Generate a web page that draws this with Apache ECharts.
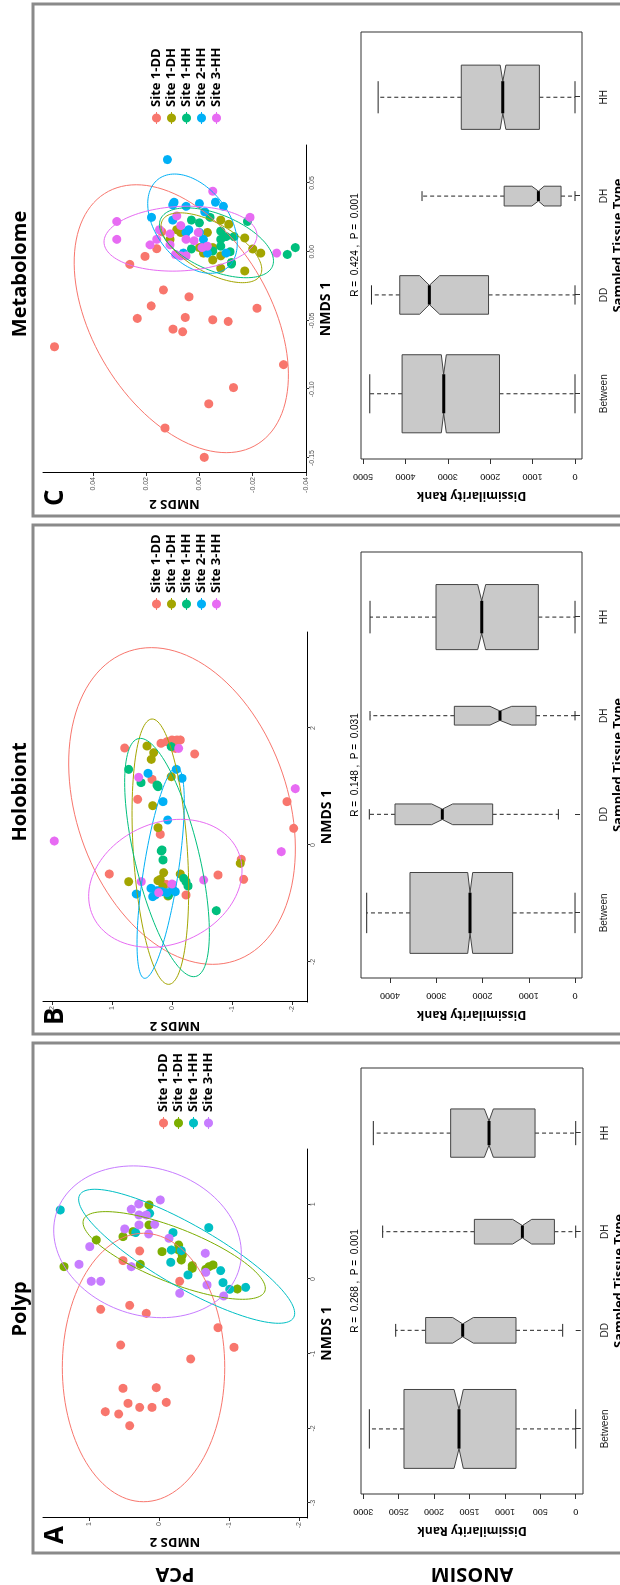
<!DOCTYPE html>
<html>
<head>
<meta charset="utf-8">
<script src="https://cdn.jsdelivr.net/npm/echarts@6/dist/echarts.min.js"></script>
<style>
html, body { margin: 0; padding: 0; background: #fff; width: 620px; height: 1585px; overflow: hidden; }
/* the figure is drawn landscape, then turned a quarter turn left like the source page */
#chart { position: absolute; left: 0; top: 0; width: 1585px; height: 620px;
         transform-origin: 0 0; transform: translate(0, 1585px) rotate(-90deg); }
</style>
</head>
<body>
<div id="chart"></div>
<script>
// ---- data: NMDS points are [NMDS1, NMDS2] ----
var groupsA = ['Site 1-DD', 'Site 1-DH', 'Site 1-HH', 'Site 3-HH'];
var groups5 = ['Site 1-DD', 'Site 1-DH', 'Site 1-HH', 'Site 2-HH', 'Site 3-HH'];
var colorsA = ['#F8766D', '#7CAE00', '#00BFC4', '#C77CFF'];
var colors5 = ['#F8766D', '#A3A500', '#00BF7D', '#00B0F6', '#E76BF3'];

// A - Polyp
var polypDD = [[0.375,0.276],[0.246,0.514],[-0.031,-0.295],[-0.406,0.833],[-0.353,0.419],[-0.460,0.181],[-0.652,-0.843],[-0.915,-1.071],[-1.071,-0.452],[-0.884,0.548],[-1.464,0.514],[-1.455,0.038],[-1.777,0.767],[-1.808,0.576],[-1.665,0.443],[-1.719,0.276],[-1.719,0.100],[-1.652,-0.105],[-1.964,0.419]];
var polypDH = [[0.165,1.357],[0.522,0.895],[0.567,0.514],[0.196,0.267],[0.991,0.143],[0.723,0.143],[0.634,0.371],[0.366,-0.043],[0.455,-0.281],[0.388,-0.281],[0.254,-0.319],[0.321,-0.333],[0.179,-0.476],[0.143,-0.476],[0.129,-0.667],[0.188,-0.771],[0.165,-0.714],[-0.134,-1.119]];
var polypHH1 = [[0.924,1.410],[0.621,0.333],[0.879,0.133],[0.621,-0.200],[0.388,-0.176],[0.379,-0.319],[0.223,-0.167],[0.054,-0.414],[0.688,-0.710],[0.112,-0.881],[-0.049,-0.914],[-0.138,-1.010],[-0.112,-1.238]];
var polypHH3 = [[0.933,0.395],[1.004,0.290],[1.058,-0.019],[0.857,0.286],[0.857,0.181],[0.723,0.286],[0.732,0.062],[0.670,0.490],[0.603,0.148],[0.545,-0.143],[0.196,1.143],[0.433,0.990],[-0.031,0.967],[-0.031,0.833],[0.165,0.395],[-0.192,-0.295],[0.344,-0.662],[0.089,-0.667],[-0.080,-0.686],[-0.228,-0.924]];
// ellipses: [centre NMDS1, centre NMDS2, half range NMDS1, half range NMDS2, correlation]
var ellPolyp = [[-1.185,0.221,1.797,1.160,0.0],[0.315,-0.217,0.587,1.302,0.75],[0.304,-0.395,0.897,1.543,0.85],[0.498,0.164,1.016,1.340,0.15]];
var ticksPolypX = [-3, -2, -1, 0, 1];
var ticksPolypY = [-2, -1, 0, 1];

// B - Holobiont
var holoDD = [[1.658,0.789],[0.781,0.572],[1.123,0.333],[1.738,0.183],[1.766,0.083],[1.795,0.000],[1.783,-0.044],[1.795,-0.083],[1.795,-0.139],[1.652,-0.056],[1.556,-0.378],[0.182,0.194],[-0.496,1.044],[-0.513,-0.767],[-0.245,-1.156],[-0.587,-1.194],[0.741,-1.917],[0.285,-2.028],[-0.672,0.100],[-0.855,-0.233]];
var holoDH = [[1.692,0.417],[1.578,0.306],[1.464,0.344],[1.168,0.011],[0.672,0.322],[0.296,0.233],[-0.473,0.139],[-0.587,0.194],[-0.610,0.233],[-0.627,0.722],[-0.496,-0.139],[-0.313,-1.139],[-0.872,0.067],[-0.712,0.156]];
var holoHH1 = [[1.293,0.722],[1.066,0.517],[1.026,0.250],[0.997,0.233],[-0.085,0.167],[-0.103,0.178],[-0.256,0.150],[-0.570,-0.194],[-0.627,-0.233],[-0.701,-0.267],[-1.123,-0.739],[-0.855,0.056],[1.681,0.011]];
var holoHH2 = [[1.225,0.400],[1.293,-0.072],[1.140,-0.167],[0.741,0.150],[0.427,0.072],[-0.838,0.594],[-0.741,0.350],[-0.883,0.322],[-0.781,0.250],[-0.798,0.167],[-0.815,0.083],[-0.758,-0.011],[-0.798,-0.056],[-0.855,0.278]];
var holoHH3 = [[0.068,1.961],[1.157,0.556],[1.652,-0.111],[-0.627,0.511],[-0.667,0.000],[-0.598,-0.528],[-0.114,-1.822],[0.963,-2.056],[-0.815,0.222]];
var ellHolo = [[0.667,-0.167,2.707,1.889,0.27],[-0.114,0.194,2.268,0.472,0.29],[-0.214,0.083,2.037,0.706,0.63],[-0.476,0.189,1.803,0.394,-0.67],[-0.655,0.111,1.094,1.278,-0.2]];
var ticksHoloX = [-2, 0, 2];
var ticksHoloY = [-2, -1, 0, 1, 2];

// C - Metabolome
var metaDD = [[-0.0691,0.0544],[-0.1282,0.0129],[-0.1495,-0.0018],[-0.1106,-0.0035],[-0.0988,-0.0128],[-0.0821,-0.0316],[-0.0411,-0.0216],[-0.0507,-0.0108],[-0.0495,-0.005],[-0.0478,0.0053],[-0.0582,0.0063],[-0.0563,0.0099],[-0.0394,0.0181],[-0.0485,0.0233],[-0.0328,0.0039],[-0.0278,0.0135],[-0.0092,0.0261],[-0.0034,0.0204],[0.0022,0.016],[0.0145,0.0141]];
var metaDH = [[0.016,0.0085],[0.014,0.007],[0.009,0.011],[0.023,-0.008],[0.020,-0.011],[0.014,-0.003],[0.010,-0.017],[0.002,-0.020],[-0.001,-0.023],[-0.014,-0.017],[-0.012,-0.008],[-0.006,-0.005],[-0.003,-0.008],[-0.008,-0.012],[0.003,0.000],[-0.001,-0.0015],[0.003,-0.005]];
var metaHH1 = [[0.023,0.003],[0.021,0.000],[0.025,-0.004],[0.015,-0.008],[0.011,-0.010],[0.011,-0.013],[0.009,-0.008],[0.004,-0.008],[0.002,0.003],[0.000,-0.0115],[-0.008,-0.012],[-0.009,-0.012],[0.022,-0.018],[-0.002,-0.033],[0.003,-0.036],[0.003,-0.001],[0.0005,-0.005]];
var metaHH2 = [[0.067,0.012],[0.025,0.018],[0.034,0.010],[0.036,0.0095],[0.033,0.005],[0.035,0.000],[0.036,-0.006],[0.033,-0.009],[0.029,-0.002],[0.023,0.010],[0.014,0.005],[0.014,0.000],[0.009,-0.0015],[-0.001,0.006],[-0.001,-0.003],[-0.001,-0.010],[0.016,0.004]];
var metaHH3 = [[0.022,0.031],[0.009,0.031],[0.005,0.0185],[0.009,0.016],[0.016,0.015],[0.013,0.011],[0.005,0.011],[0.026,0.0085],[0.019,0.007],[0.009,0.005],[0.008,0.002],[0.014,0.0004],[-0.003,0.007],[-0.003,0.005],[0.003,-0.001],[0.044,-0.005],[0.025,-0.019],[-0.001,-0.029],[0.004,-0.003],[-0.002,0.009]];
var ellMeta = [[-0.0487,0.0068,0.0974,0.0402,0.42],[0.0029,-0.0045,0.0254,0.0189,0.62],[0.0065,-0.0064,0.0254,0.0214,0.52],[0.0204,0.0026,0.0361,0.0168,0.4],[0.0095,0.0071,0.0236,0.0287,-0.1]];
var ticksMetaX = [-0.15, -0.10, -0.05, 0, 0.05];
var ticksMetaY = [-0.04, -0.02, 0, 0.02, 0.04];

// ANOSIM dissimilarity ranks (notched boxplots)
var boxCats = ['Between', 'DD', 'DH', 'HH'];
var boxMinA = [0, 184, 0, 0];
var boxQ1A = [843, 843, 301, 574];
var notchLoA = [1587, 1445, 621, 1163];
var medianA = [1648, 1596, 753, 1224];
var notchHiA = [1718, 1737, 890, 1290];
var boxQ3A = [2425, 2119, 1431, 1766];
var boxMaxA = [2914, 2542, 2726, 2858];
var boxWidthA = [0.80, 0.26, 0.25, 0.49];

var boxMinB = [0, 360, 0, 0];
var boxQ1B = [1348, 1780, 843, 793];
var notchLoB = [2212, 2645, 1369, 1931];
var medianB = [2270, 2869, 1622, 2018];
var notchHiB = [2320, 3099, 1838, 2104];
var boxQ3B = [3568, 3892, 2609, 3005];
var boxMaxB = [4504, 4447, 4432, 4432];
var boxWidthB = [0.82, 0.21, 0.19, 0.66];

var boxMinC = [0, 0, 0, 0];
var boxQ1C = [1781, 2039, 329, 840];
var notchLoC = [3035, 3192, 729, 1631];
var medianC = [3098, 3435, 863, 1702];
var notchHiC = [3153, 3663, 1019, 1765];
var boxQ3C = [4078, 4133, 1671, 2682];
var boxMaxC = [4840, 4800, 3608, 4643];
var boxWidthC = [0.79, 0.39, 0.20, 0.65];

var rankTicksA = [0, 500, 1000, 1500, 2000, 2500, 3000];
var rankTicksB = [0, 1000, 2000, 3000, 4000];
var rankTicksC = [0, 1000, 2000, 3000, 4000, 5000];
var catTicks = [1, 2, 3, 4];

var statsA = 'R =  0.268 ,  P =  0.001';
var statsB = 'R =  0.148 ,  P =  0.031';
var statsC = 'R =  0.424 ,  P =  0.001';

// ---- layout ----
var scatterPanels = [
    { grid: {left: 67, top: 43, width: 369, height: 264}, xMin: -3.2, xMax: 1.74, yMin: -2.114, yMax: 1.657,
      xTicks: ticksPolypX, yTicks: ticksPolypY, dec: 0, groups: groupsA, colors: colorsA,
      pts: [polypDD, polypDH, polypHH1, polypHH3], ells: ellPolyp, legend: {left: 451, top: 152} },
    { grid: {left: 583, top: 43, width: 370, height: 264}, xMin: -2.684, xMax: 3.641, yMin: -2.25, yMax: 2.15,
      xTicks: ticksHoloX, yTicks: ticksHoloY, dec: 0, groups: groups5, colors: colors5,
      pts: [holoDD, holoDH, holoHH1, holoHH2, holoHH3], ells: ellHolo, legend: {left: 970, top: 145} },
    { grid: {left: 1112, top: 43, width: 328, height: 263}, xMin: -0.1609, xMax: 0.0776, yMin: -0.04, yMax: 0.0587,
      xTicks: ticksMetaX, yTicks: ticksMetaY, dec: 2, groups: groups5, colors: colors5,
      pts: [metaDD, metaDH, metaHH1, metaHH2, metaHH3], ells: ellMeta, legend: {left: 1456, top: 145} }
];
var boxPanels = [
    { grid: {left: 91, top: 361, width: 426, height: 222}, yMin: -103, yMax: 3032, ticks: rankTicksA,
      min: boxMinA, q1: boxQ1A, lo: notchLoA, med: medianA, hi: notchHiA, q3: boxQ3A, max: boxMaxA, w: boxWidthA },
    { grid: {left: 607, top: 361, width: 426, height: 221}, yMin: -151, yMax: 4627, ticks: rankTicksB,
      min: boxMinB, q1: boxQ1B, lo: notchLoB, med: medianB, hi: notchHiB, q3: boxQ3B, max: boxMaxB, w: boxWidthB },
    { grid: {left: 1126, top: 361, width: 427, height: 221}, yMin: -165, yMax: 5047, ticks: rankTicksC,
      min: boxMinC, q1: boxQ1C, lo: notchLoC, med: medianC, hi: notchHiC, q3: boxQ3C, max: boxMaxC, w: boxWidthC }
];

var keyIcon = 'path://M0,4L12,4L12,5L0,5Z M6,0A4.5,4.5,0,1,1,5.99,0Z';
var tickFont = 'Liberation Sans';
var headFont = 'Open Sans';

function ellipseItem(color) {
    return function (params, api) {
        var c1 = api.value(0), c2 = api.value(1), r1 = api.value(2), r2 = api.value(3), rho = api.value(4);
        var s = Math.sqrt(1 - rho * rho);
        var pts = [];
        for (var i = 0; i <= 120; i++) {
            var t = i / 120 * Math.PI * 2;
            pts.push(api.coord([c1 + r1 * Math.cos(t), c2 + r2 * (rho * Math.cos(t) + s * Math.sin(t))]));
        }
        return { type: 'polyline', shape: {points: pts}, style: {stroke: color, fill: null, lineWidth: 1} };
    };
}

function boxItem(params, api) {
    var c = api.value(0), hw = api.value(8) / 2;
    var vMin = api.value(1), q1 = api.value(2), lo = api.value(3), med = api.value(4),
        hi = api.value(5), q3 = api.value(6), vMax = api.value(7);
    function P(x, y) { return api.coord([x, y]); }
    function seg(a, b, dash) {
        return { type: 'line', shape: {x1: a[0], y1: a[1], x2: b[0], y2: b[1]},
                 style: {stroke: '#222', lineWidth: 1, lineDash: dash ? [4, 3] : null} };
    }
    var poly = [P(c - hw, q1), P(c - hw, lo), P(c - hw / 2, med), P(c - hw, hi), P(c - hw, q3),
                P(c + hw, q3), P(c + hw, hi), P(c + hw / 2, med), P(c + hw, lo), P(c + hw, q1)];
    return {
        type: 'group',
        children: [
            seg(P(c, q3), P(c, vMax), true),
            seg(P(c - hw / 2, vMax), P(c + hw / 2, vMax)),
            seg(P(c, q1), P(c, vMin), true),
            seg(P(c - hw / 2, vMin), P(c + hw / 2, vMin)),
            { type: 'polygon', shape: {points: poly}, style: {fill: '#c9c9c9', stroke: '#444', lineWidth: 1} },
            { type: 'line', shape: {x1: P(c - hw / 2, med)[0], y1: P(c, med)[1], x2: P(c + hw / 2, med)[0], y2: P(c, med)[1]},
              style: {stroke: '#000', lineWidth: 3} }
        ]
    };
}

var grids = [], xAxes = [], yAxes = [], series = [], legends = [];

scatterPanels.forEach(function (p, k) {
    grids.push(Object.assign({outerBoundsMode: 'none'}, p.grid));
    var fmt = function (v) { return p.dec ? v.toFixed(p.dec) : String(Math.round(v)); };
    xAxes.push({
        type: 'value', gridIndex: k, min: p.xMin, max: p.xMax,
        name: 'NMDS 1', nameLocation: 'middle', nameGap: 13,
        nameTextStyle: {fontFamily: headFont, fontWeight: 'bold', fontSize: 14, color: '#000'},
        splitLine: {show: false},
        axisLine: {onZero: false, lineStyle: {color: '#000', width: 1}},
        axisTick: {length: 3, lineStyle: {color: '#333'}, customValues: p.xTicks},
        axisLabel: {customValues: p.xTicks, formatter: fmt, fontSize: 7, fontFamily: tickFont, color: '#555', margin: 3}
    });
    yAxes.push({
        type: 'value', gridIndex: k, min: p.yMin, max: p.yMax,
        name: 'NMDS 2', nameLocation: 'middle', nameRotate: 90, nameGap: 17,
        nameTextStyle: {fontFamily: headFont, fontWeight: 'bold', fontSize: 13, color: '#000'},
        splitLine: {show: false},
        axisLine: {onZero: false, lineStyle: {color: '#000', width: 1}},
        axisTick: {length: 3, lineStyle: {color: '#333'}, customValues: p.yTicks},
        axisLabel: {customValues: p.yTicks, formatter: fmt, fontSize: 7, fontFamily: tickFont, color: '#555', margin: 4}
    });
    p.groups.forEach(function (g, j) {
        series.push({
            type: 'scatter', name: g, xAxisIndex: k, yAxisIndex: k, data: p.pts[j],
            symbol: 'circle', symbolSize: 9, itemStyle: {color: p.colors[j], opacity: 1}, z: 2
        });
        series.push({
            type: 'custom', xAxisIndex: k, yAxisIndex: k, silent: true, clip: false, z: 3,
            dimensions: ['c1', 'c2', 'r1', 'r2', 'rho'], encode: {x: 0, y: 1},
            data: [p.ells[j]], renderItem: ellipseItem(p.colors[j])
        });
    });
    legends.push({
        left: p.legend.left, top: p.legend.top, orient: 'vertical', selectedMode: false,
        itemWidth: 12, itemHeight: 9, itemGap: 2,
        textStyle: {fontFamily: headFont, fontWeight: 'bold', fontSize: 13, color: '#000', lineHeight: 13},
        data: p.groups.map(function (g, j) { return {name: g, icon: keyIcon, itemStyle: {color: p.colors[j]}}; })
    });
});

boxPanels.forEach(function (b, i) {
    var k = i + 3;
    grids.push(Object.assign({show: true, borderColor: '#333', borderWidth: 1, outerBoundsMode: 'none'}, b.grid));
    xAxes.push({
        type: 'value', gridIndex: k, min: 0.34, max: 4.66,
        name: 'Sampled Tissue Type', nameLocation: 'middle', nameGap: 30,
        nameTextStyle: {fontFamily: headFont, fontWeight: 'bold', fontSize: 13, color: '#000'},
        splitLine: {show: false}, axisLine: {show: false},
        axisTick: {length: 5, lineStyle: {color: '#333'}, customValues: catTicks},
        axisLabel: {customValues: catTicks, formatter: function (v) { return boxCats[Math.round(v) - 1]; },
                    fontSize: 10, fontFamily: tickFont, color: '#222', margin: 17}
    });
    yAxes.push({
        type: 'value', gridIndex: k, min: b.yMin, max: b.yMax,
        name: 'Dissimilarity Rank', nameLocation: 'middle', nameRotate: 90, nameGap: 30,
        nameTextStyle: {fontFamily: headFont, fontWeight: 'bold', fontSize: 12, color: '#000'},
        splitLine: {show: false}, axisLine: {show: false},
        axisTick: {length: 5, lineStyle: {color: '#333'}, customValues: b.ticks},
        axisLabel: {customValues: b.ticks, formatter: function (v) { return String(v); }, rotate: 90,
                    fontSize: 9, fontFamily: tickFont, color: '#222', margin: 13}
    });
    series.push({
        type: 'custom', xAxisIndex: k, yAxisIndex: k, silent: true,
        dimensions: ['cat', 'min', 'q1', 'lo', 'med', 'hi', 'q3', 'max', 'w'],
        encode: {x: 0, y: [1, 7]},
        data: boxCats.map(function (c, j) {
            return [j + 1, b.min[j], b.q1[j], b.lo[j], b.med[j], b.hi[j], b.q3[j], b.max[j], b.w[j]];
        }),
        renderItem: boxItem
    });
});

function frame(x, w) {
    return {type: 'rect', shape: {x: x, y: 33, width: w, height: 640}, style: {fill: null, stroke: '#8a8a8a', lineWidth: 3}, z: 0};
}
function label(text, x, y, font, rot, align) {
    return {type: 'text', x: x, y: y, rotation: rot || 0,
            style: {text: text, font: font, fill: '#000', align: align || 'center', verticalAlign: 'middle'}};
}
var titleFont = 'bold 20px "Open Sans"';
var letterFont = 'bold 26px "Open Sans"';
var statFont = '10px "Liberation Sans"';

var chart = echarts.init(document.getElementById('chart'));
chart.setOption({
    animation: false,
    backgroundColor: '#fff',
    grid: grids, xAxis: xAxes, yAxis: yAxes, legend: legends, series: series,
    graphic: [
        frame(32, 510), frame(551, 509), frame(1069, 512),
        label('Polyp', 276, 20, titleFont), label('Holobiont', 793, 20, titleFont), label('Metabolome', 1311, 20, titleFont),
        label('A', 41, 56, letterFont, 0, 'left'), label('B', 560, 56, letterFont, 0, 'left'), label('C', 1079, 56, letterFont, 0, 'left'),
        label('PCA', 11, 175, titleFont, Math.PI / 2), label('ANOSIM', 11, 472, titleFont, Math.PI / 2),
        label(statsA, 304, 355, statFont), label(statsB, 820, 355, statFont), label(statsC, 1340, 355, statFont)
    ]
});
</script>
</body>
</html>
